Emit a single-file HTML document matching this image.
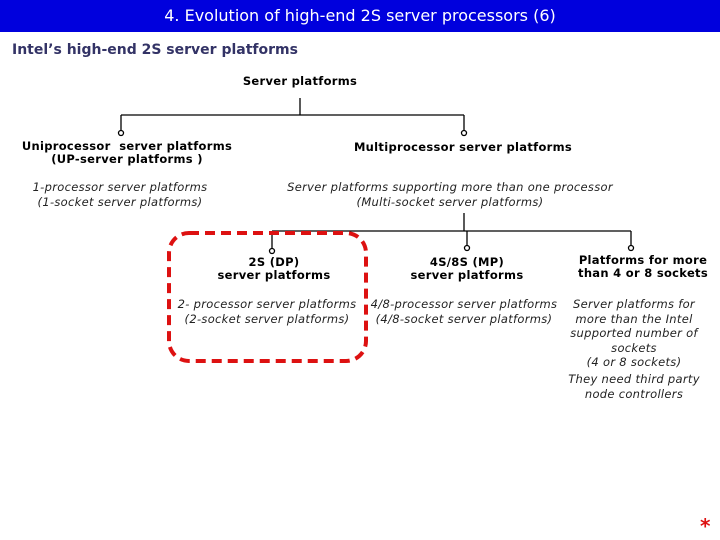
<!DOCTYPE html>
<html><head><meta charset="utf-8"><style>
body{margin:0;width:720px;height:540px;background:#fff;position:relative;overflow:hidden;font-family:"DejaVu Sans","Liberation Sans",sans-serif;}
.t{position:absolute;text-align:center;white-space:nowrap;transform:translateX(-50%);color:#000;}
.b{font-weight:bold;font-size:11.5px;line-height:13px;letter-spacing:0.3px}
.i{font-style:italic;font-size:11.5px;line-height:14.5px;color:#222;letter-spacing:0.3px}
</style></head><body>
<div style="position:absolute;left:0;top:0;width:720px;height:32px;background:#0000dd;"></div>
<div class="t" style="left:360px;top:6px;color:#fff;font-size:16px;font-family:'DejaVu Sans',sans-serif;font-weight:normal;">4. Evolution of high-end 2S server processors (6)</div>
<div style="position:absolute;left:12px;top:42px;color:#333366;font-weight:bold;font-size:14px;">Intel’s high-end 2S server platforms</div>
<svg width="720" height="540" style="position:absolute;left:0;top:0" fill="none" stroke="#000" stroke-width="1.3">
<path d="M300 98V115M121 115H464M121 115V130M464 115V130"/>
<circle cx="121" cy="133" r="2.5" fill="#fff"/><circle cx="464" cy="133" r="2.5" fill="#fff"/>
<path d="M464 213V231M272 231H631M272 231V248M467 231V245M631 231V245"/>
<circle cx="272" cy="251" r="2.5" fill="#fff"/><circle cx="467" cy="248" r="2.5" fill="#fff"/><circle cx="631" cy="248" r="2.5" fill="#fff"/>
<rect x="169" y="233" width="197" height="128" rx="20" stroke="#dd1111" stroke-width="4" stroke-dasharray="10,6"/>
</svg>
<div class="t b" style="left:300px;top:75px;">Server platforms</div>
<div class="t b" style="left:127px;top:140px;">Uniprocessor&nbsp; server platforms<br>(UP-server platforms )</div>
<div class="t b" style="left:463px;top:141px;">Multiprocessor server platforms</div>
<div class="t i" style="left:120px;top:180px;">1-processor server platforms<br>(1-socket server platforms)</div>
<div class="t i" style="left:450px;top:180px;">Server platforms supporting more than one processor<br>(Multi-socket server platforms)</div>
<div class="t b" style="left:274px;top:256px;">2S (DP)<br>server platforms</div>
<div class="t b" style="left:467px;top:256px;">4S/8S (MP)<br>server platforms</div>
<div class="t b" style="left:643px;top:254px;">Platforms for more<br>than 4 or 8 sockets</div>
<div class="t i" style="left:267px;top:297px;">2- processor server platforms<br>(2-socket server platforms)</div>
<div class="t i" style="left:464px;top:297px;">4/8-processor server platforms<br>(4/8-socket server platforms)</div>
<div class="t i" style="left:634px;top:297px;">Server platforms for<br>more than the Intel<br>supported number of<br>sockets<br>(4 or 8 sockets)</div>
<div class="t i" style="left:634px;top:372px;">They need third party<br>node controllers</div>
<div style="position:absolute;left:700px;top:514px;color:#dd1111;font-size:20px;font-weight:bold;">*</div>
</body></html>
